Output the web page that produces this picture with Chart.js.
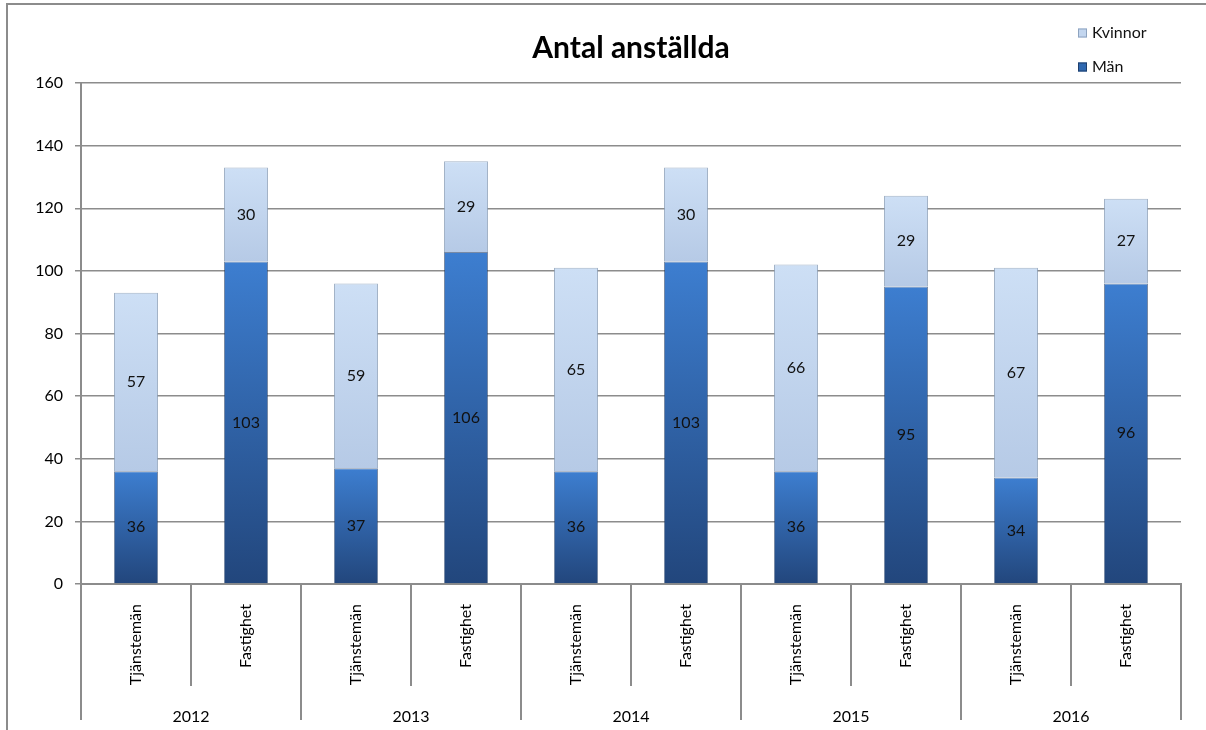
<!DOCTYPE html>
<html>
<head>
<meta charset="utf-8">
<script src="https://cdn.jsdelivr.net/npm/chart.js@4.4.1/dist/chart.umd.min.js"></script>
<style>
html, body { margin:0; padding:0; background:#fff; overflow:hidden; }
#frame { position:absolute; left:6px; top:3px; width:1400px; height:1000px; border:2px solid #8c8c8c; }
#wrap { position:absolute; left:0; top:0; width:1206px; height:730px; }
</style>
</head>
<body>
<div id="frame"></div>
<div id="wrap"><canvas id="staff"></canvas></div>
<script>
// Antal anställda - chart data
var categories = ['Tjänstemän', 'Fastighet', 'Tjänstemän', 'Fastighet', 'Tjänstemän', 'Fastighet', 'Tjänstemän', 'Fastighet', 'Tjänstemän', 'Fastighet'];
var years = ['2012', '2013', '2014', '2015', '2016'];
var man = [36, 103, 37, 106, 36, 103, 36, 95, 34, 96];
var kvinnor = [57, 30, 59, 29, 65, 30, 66, 29, 67, 27];

var FONT = 'Lato, "Noto Sans", sans-serif';

// vertical gradient per bar segment
function barFill(bottomColor, topColor) {
    return function (ctx) {
        var chart = ctx.chart;
        var y = chart.scales.y;
        if (!y || ctx.type !== 'data') return topColor;
        var i = ctx.dataIndex;
        var start = ctx.datasetIndex === 0 ? 0 : man[i];
        var end = ctx.datasetIndex === 0 ? man[i] : man[i] + kvinnor[i];
        var y0 = y.getPixelForValue(start), y1 = y.getPixelForValue(end);
        if (!isFinite(y0) || !isFinite(y1) || y0 === y1) return topColor;
        var g = chart.ctx.createLinearGradient(0, y0, 0, y1);
        g.addColorStop(0, bottomColor);
        g.addColorStop(1, topColor);
        return g;
    };
}

// numbers inside the bars
const valueLabels = {
    id: 'valueLabels',
    afterDatasetsDraw(chart) {
        var c = chart.ctx;
        c.save();
        c.font = '16px ' + FONT;
        c.fillStyle = '#111';
        c.textAlign = 'center';
        c.textBaseline = 'middle';
        chart.data.datasets.forEach(function (ds, di) {
            chart.getDatasetMeta(di).data.forEach(function (bar, i) {
                c.fillText(ds.data[i], bar.x, (bar.y + bar.base) / 2);
            });
        });
        c.restore();
    }
};

// separators for the two level category axis
const axisGroups = {
    id: 'axisGroups',
    afterDraw(chart) {
        var x = chart.scales.x, x2 = chart.scales.x2, area = chart.chartArea;
        var half = (x.getPixelForValue(1) - x.getPixelForValue(0)) / 2;
        var c = chart.ctx;
        c.save();
        c.strokeStyle = '#8c8c8c';
        c.lineWidth = 2;
        for (var i = 0; i <= categories.length; i++) {
            var px = i < categories.length ? x.getPixelForValue(i) - half : x.getPixelForValue(i - 1) + half;
            var bottom = i % 2 === 0 ? x2.bottom - 6 : x.bottom;
            c.beginPath();
            c.moveTo(Math.round(px), area.bottom);
            c.lineTo(Math.round(px), bottom);
            c.stroke();
        }
        c.restore();
    }
};

// legend, stacked in the top right corner
const cornerLegend = {
    id: 'cornerLegend',
    afterDraw(chart) {
        var c = chart.ctx, area = chart.chartArea;
        var items = [
            { text: 'Kvinnor', fill: '#c3d6ef', edge: '#8ea3bf', y: 33 },
            { text: 'Män', fill: '#2f68b0', edge: '#1f3f6c', y: 67 }
        ];
        c.save();
        c.font = '16px ' + FONT;
        c.textBaseline = 'middle';
        c.textAlign = 'left';
        items.forEach(function (it) {
            var bx = area.right - 103;
            c.fillStyle = it.fill;
            c.fillRect(bx, it.y - 4.5, 9, 9);
            c.strokeStyle = it.edge;
            c.lineWidth = 1;
            c.strokeRect(bx + 0.5, it.y - 4, 8, 8);
            c.fillStyle = '#111';
            c.fillText(it.text, bx + 14, it.y);
        });
        c.restore();
    }
};

const staff = document.getElementById('staff');

const staffChart = new Chart(staff, {
    type: 'bar',
    data: {
        labels: categories,
        datasets: [
            {
                label: 'Män',
                data: man,
                backgroundColor: barFill('#22467c', '#3d7ed0'),
                borderColor: 'rgba(30, 60, 105, 0.6)',
                borderWidth: 1,
                barPercentage: 0.4,
                categoryPercentage: 1
            },
            {
                label: 'Kvinnor',
                data: kvinnor,
                backgroundColor: barFill('#b6cae6', '#cddff5'),
                borderColor: 'rgba(140, 160, 185, 0.8)',
                borderWidth: 1,
                barPercentage: 0.4,
                categoryPercentage: 1
            }
        ]
    },
    options: {
        responsive: true,
        maintainAspectRatio: false,
        animation: false,
        layout: { padding: { top: 15, right: 25, bottom: 4, left: 0 } },
        plugins: {
            legend: { display: false },
            tooltip: { enabled: false },
            title: {
                display: true,
                text: 'Antal anställda',
                fullSize: false,
                color: '#000',
                font: { family: FONT, size: 30, weight: 'bold' },
                padding: { top: 15, bottom: 17 }
            }
        },
        scales: {
            x: {
                stacked: true,
                weight: 0,
                grid: { display: false },
                border: { display: true, color: '#8c8c8c', width: 2 },
                ticks: {
                    autoSkip: false,
                    minRotation: 90,
                    maxRotation: 90,
                    padding: 12,
                    color: '#000',
                    font: { family: FONT, size: 16 }
                },
                afterFit: function (scale) { scale.height = 102; }
            },
            x2: {
                type: 'category',
                labels: years,
                offset: true,
                position: 'bottom',
                weight: 1,
                grid: { display: false },
                border: { display: false },
                ticks: {
                    padding: 13,
                    color: '#000',
                    font: { family: FONT, size: 16 }
                },
                afterFit: function (scale) { scale.height = 40; }
            },
            y: {
                stacked: true,
                min: 0,
                max: 160,
                ticks: {
                    stepSize: 20,
                    padding: 12,
                    color: '#000',
                    font: { family: FONT, size: 16 }
                },
                grid: { color: '#8c8c8c', lineWidth: 1.5, tickLength: 6 },
                border: { display: true, color: '#8c8c8c', width: 2 },
                afterFit: function (scale) { scale.width = 81; }
            }
        }
    },
    plugins: [valueLabels, axisGroups, cornerLegend]
});
</script>
</body>
</html>
